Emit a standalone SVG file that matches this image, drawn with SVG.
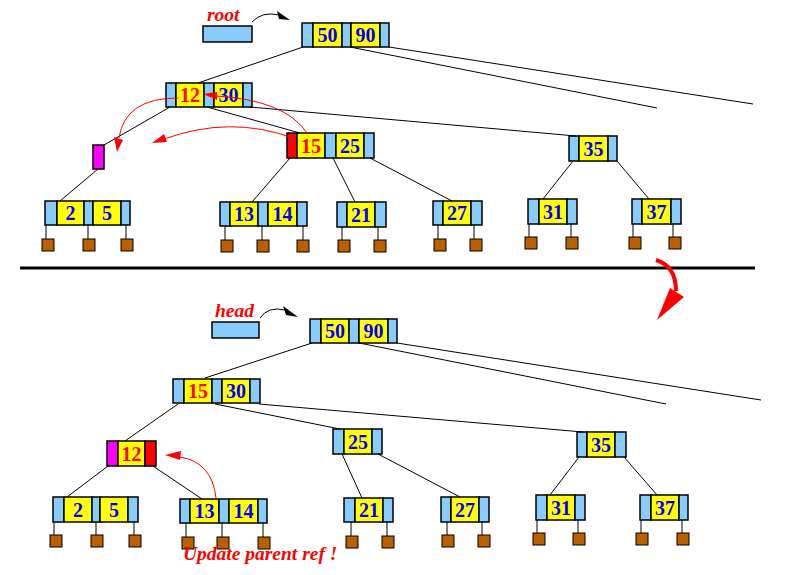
<svg xmlns="http://www.w3.org/2000/svg" width="786" height="575" viewBox="0 0 786 575">
<style>
.b{fill:#88ccff;stroke:#000;stroke-width:1.5}
.y{fill:#ffff00;stroke:#000;stroke-width:1.5}
.m{fill:#ff00ff;stroke:#000;stroke-width:1.5}
.r{fill:#ff0000;stroke:#000;stroke-width:1.5}
.s{fill:#bb6000;stroke:#000;stroke-width:1}
.t{font-family:"Liberation Serif",serif;font-weight:bold;font-size:20px;fill:#0000ff;text-anchor:middle}
.tr{fill:#ff0000}
.lbl{font-family:"Liberation Serif",serif;font-weight:bold;font-style:italic;font-size:19.5px;fill:#ff0000}
.e{stroke:#000;stroke-width:1;fill:none}
.ra{stroke:#ff0000;stroke-width:1;fill:none}
</style>
<rect width="786" height="575" fill="#fff"/>

<line x1="20" y1="268" x2="755" y2="268" stroke="#000" stroke-width="3"/>

<!-- TOP HALF -->
<g id="root-label">
<text class="lbl" x="207" y="21">root</text>
<rect class="b" x="203" y="26" width="49" height="16"/>
</g>
<g id="t-50-90">
<rect class="b" x="302" y="23" width="11" height="24"/><rect class="y" x="313" y="23" width="29" height="24"/><rect class="b" x="342" y="23" width="9" height="24"/><rect class="y" x="351" y="23" width="29" height="24"/><rect class="b" x="380" y="23" width="9" height="24"/>
<text class="t" x="327.5" y="42">50</text><text class="t" x="365.5" y="42">90</text>
</g>
<g id="t-12-30">
<rect class="b" x="166" y="83" width="10" height="24"/><rect class="y" x="176" y="83" width="28" height="24"/><rect class="b" x="204" y="83" width="10" height="24"/><rect class="y" x="214" y="83" width="29" height="24"/><rect class="b" x="243" y="83" width="9" height="24"/>
<text class="t tr" x="190" y="102">12</text><text class="t" x="228.5" y="102">30</text>
</g>
<g id="t-magenta">
<rect class="m" x="93" y="145" width="11" height="24"/>
</g>
<g id="t-15-25">
<rect class="r" x="287" y="133" width="10" height="25"/><rect class="y" x="297" y="133" width="28" height="25"/><rect class="b" x="325" y="133" width="11" height="25"/><rect class="y" x="336" y="133" width="28" height="25"/><rect class="b" x="364" y="133" width="10" height="25"/>
<text class="t tr" x="311" y="152.5">15</text><text class="t" x="350" y="152.5">25</text>
</g>
<g id="t-35">
<rect class="b" x="569" y="136" width="10" height="25"/><rect class="y" x="579" y="136" width="29" height="25"/><rect class="b" x="608" y="136" width="9" height="25"/>
<text class="t" x="593.5" y="155.5">35</text>
</g>
<g id="t-2-5">
<rect class="b" x="45" y="201" width="12" height="24"/><rect class="y" x="57" y="201" width="27" height="24"/><rect class="b" x="84" y="201" width="9" height="24"/><rect class="y" x="93" y="201" width="28" height="24"/><rect class="b" x="121" y="201" width="9" height="24"/>
<text class="t" x="70.5" y="220">2</text><text class="t" x="107" y="220">5</text>
<rect class="s" x="42" y="239" width="12" height="12"/><rect class="s" x="83" y="239" width="12" height="12"/><rect class="s" x="121" y="239" width="12" height="12"/>
</g>
<g id="t-13-14">
<rect class="b" x="220" y="202" width="10" height="24"/><rect class="y" x="230" y="202" width="28" height="24"/><rect class="b" x="258" y="202" width="10" height="24"/><rect class="y" x="268" y="202" width="29" height="24"/><rect class="b" x="297" y="202" width="10" height="24"/>
<text class="t" x="244" y="221">13</text><text class="t" x="282.5" y="221">14</text>
<rect class="s" x="221" y="240" width="12" height="12"/><rect class="s" x="257" y="240" width="12" height="12"/><rect class="s" x="297" y="240" width="12" height="12"/>
</g>
<g id="t-21">
<rect class="b" x="337" y="202" width="10" height="25"/><rect class="y" x="347" y="202" width="28" height="25"/><rect class="b" x="375" y="202" width="11" height="25"/>
<text class="t" x="361" y="221.5">21</text>
<rect class="s" x="338" y="240" width="12" height="12"/><rect class="s" x="374" y="240" width="12" height="12"/>
</g>
<g id="t-27">
<rect class="b" x="433" y="201" width="10" height="24"/><rect class="y" x="443" y="201" width="28" height="24"/><rect class="b" x="471" y="201" width="11" height="24"/>
<text class="t" x="457" y="220">27</text>
<rect class="s" x="434" y="239" width="12" height="12"/><rect class="s" x="470" y="239" width="12" height="12"/>
</g>
<g id="t-31">
<rect class="b" x="528" y="199" width="11" height="25"/><rect class="y" x="539" y="199" width="28" height="25"/><rect class="b" x="567" y="199" width="10" height="25"/>
<text class="t" x="553" y="218.5">31</text>
<rect class="s" x="525" y="237" width="12" height="12"/><rect class="s" x="566" y="237" width="12" height="12"/>
</g>
<g id="t-37">
<rect class="b" x="632" y="199" width="10" height="25"/><rect class="y" x="642" y="199" width="29" height="25"/><rect class="b" x="671" y="199" width="10" height="25"/>
<text class="t" x="656.5" y="218.5">37</text>
<rect class="s" x="629" y="237" width="12" height="12"/><rect class="s" x="669" y="237" width="12" height="12"/>
</g>

<!-- BOTTOM HALF -->
<g id="head-label">
<text class="lbl" x="215" y="317">head</text>
<rect class="b" x="212" y="322" width="47" height="16"/>
</g>
<g id="b-50-90">
<rect class="b" x="310" y="319" width="11" height="24"/><rect class="y" x="321" y="319" width="28" height="24"/><rect class="b" x="349" y="319" width="10" height="24"/><rect class="y" x="359" y="319" width="29" height="24"/><rect class="b" x="388" y="319" width="9" height="24"/>
<text class="t" x="335" y="338">50</text><text class="t" x="373.5" y="338">90</text>
</g>
<g id="b-15-30">
<rect class="b" x="173" y="379" width="11" height="24"/><rect class="y" x="184" y="379" width="28" height="24"/><rect class="b" x="212" y="379" width="10" height="24"/><rect class="y" x="222" y="379" width="28" height="24"/><rect class="b" x="250" y="379" width="10" height="24"/>
<text class="t tr" x="198" y="398">15</text><text class="t" x="236" y="398">30</text>
</g>
<g id="b-12">
<rect class="m" x="107" y="441" width="11" height="25"/><rect class="y" x="118" y="441" width="27" height="25"/><rect class="r" x="145" y="441" width="11" height="25"/>
<text class="t tr" x="131.5" y="460.5">12</text>
</g>
<g id="b-25">
<rect class="b" x="333" y="429" width="11" height="25"/><rect class="y" x="344" y="429" width="28" height="25"/><rect class="b" x="372" y="429" width="10" height="25"/>
<text class="t" x="358" y="448.5">25</text>
</g>
<g id="b-35">
<rect class="b" x="577" y="432" width="10" height="25"/><rect class="y" x="587" y="432" width="28" height="25"/><rect class="b" x="615" y="432" width="11" height="25"/>
<text class="t" x="601" y="451.5">35</text>
</g>
<g id="b-2-5">
<rect class="b" x="53" y="497" width="11" height="25"/><rect class="y" x="64" y="497" width="28" height="25"/><rect class="b" x="92" y="497" width="8" height="25"/><rect class="y" x="100" y="497" width="28" height="25"/><rect class="b" x="128" y="497" width="10" height="25"/>
<text class="t" x="78" y="516.5">2</text><text class="t" x="114" y="516.5">5</text>
<rect class="s" x="50" y="535" width="12" height="12"/><rect class="s" x="91" y="535" width="12" height="12"/><rect class="s" x="129" y="535" width="12" height="12"/>
</g>
<g id="b-13-14">
<rect class="b" x="180" y="499" width="10" height="24"/><rect class="y" x="190" y="499" width="29" height="24"/><rect class="b" x="219" y="499" width="10" height="24"/><rect class="y" x="229" y="499" width="29" height="24"/><rect class="b" x="258" y="499" width="9" height="24"/>
<text class="t" x="204.5" y="518">13</text><text class="t" x="243.5" y="518">14</text>
<rect class="s" x="182" y="537" width="12" height="12"/><rect class="s" x="217" y="537" width="12" height="12"/><rect class="s" x="258" y="537" width="12" height="12"/>
</g>
<g id="b-21">
<rect class="b" x="344" y="498" width="11" height="24"/><rect class="y" x="355" y="498" width="28" height="24"/><rect class="b" x="383" y="498" width="10" height="24"/>
<text class="t" x="369" y="517">21</text>
<rect class="s" x="346" y="536" width="12" height="12"/><rect class="s" x="382" y="536" width="12" height="12"/>
</g>
<g id="b-27">
<rect class="b" x="441" y="497" width="10" height="25"/><rect class="y" x="451" y="497" width="28" height="25"/><rect class="b" x="479" y="497" width="10" height="25"/>
<text class="t" x="465" y="516.5">27</text>
<rect class="s" x="442" y="535" width="12" height="12"/><rect class="s" x="478" y="535" width="12" height="12"/>
</g>
<g id="b-31">
<rect class="b" x="536" y="495" width="11" height="25"/><rect class="y" x="547" y="495" width="28" height="25"/><rect class="b" x="575" y="495" width="10" height="25"/>
<text class="t" x="561" y="514.5">31</text>
<rect class="s" x="533" y="533" width="12" height="12"/><rect class="s" x="573" y="533" width="12" height="12"/>
</g>
<g id="b-37">
<rect class="b" x="640" y="495" width="11" height="25"/><rect class="y" x="651" y="495" width="28" height="25"/><rect class="b" x="679" y="495" width="9" height="25"/>
<text class="t" x="665" y="514.5">37</text>
<rect class="s" x="636" y="533" width="12" height="12"/><rect class="s" x="677" y="533" width="12" height="12"/>
</g>
<text class="lbl" x="183" y="560">Update parent ref !</text>

<g id="connectors">
<!-- top -->
<line class="e" x1="303" y1="47" x2="198" y2="83"/>
<line class="e" x1="350" y1="47" x2="657" y2="108"/>
<line class="e" x1="389" y1="47" x2="753" y2="104"/>
<line class="e" x1="170" y1="107" x2="104" y2="145"/>
<line class="e" x1="98" y1="169" x2="60" y2="201"/>
<line class="e" x1="207" y1="107" x2="300" y2="133"/>
<line class="e" x1="250" y1="107" x2="576" y2="136"/>
<line class="e" x1="290" y1="158" x2="252" y2="202"/>
<line class="e" x1="333" y1="158" x2="355" y2="202"/>
<line class="e" x1="370" y1="158" x2="452" y2="201"/>
<line class="e" x1="573" y1="161" x2="543" y2="199"/>
<line class="e" x1="617" y1="161" x2="649" y2="199"/>
<path class="e" d="M46 225V239M88 225V239M126 225V239M225 226V240M262 226V240M303 226V240M342 227V240M378 227V240M438 225V239M474 225V239M529 224V237M571 224V237M633 224V237M673 224V237"/>
<!-- bottom -->
<line class="e" x1="312" y1="343" x2="205" y2="378"/>
<line class="e" x1="359" y1="343" x2="666" y2="404"/>
<line class="e" x1="397" y1="343" x2="761" y2="400"/>
<line class="e" x1="178" y1="404" x2="125" y2="441"/>
<line class="e" x1="215" y1="404" x2="340" y2="429"/>
<line class="e" x1="259" y1="404" x2="583" y2="432"/>
<line class="e" x1="108" y1="466" x2="67" y2="497"/>
<line class="e" x1="153" y1="466" x2="202" y2="499"/>
<line class="e" x1="342" y1="454" x2="362" y2="498"/>
<line class="e" x1="378" y1="454" x2="460" y2="497"/>
<line class="e" x1="579" y1="457" x2="550" y2="495"/>
<line class="e" x1="624" y1="457" x2="657" y2="495"/>
<path class="e" d="M54 522V535M96 522V535M134 522V535M186 523V537M222 523V537M263 523V537M351 522V536M387 522V536M447 522V535M482 522V535M537 520V533M578 520V533M641 520V533M682 520V533"/>
<!-- pointer arrows -->
<path class="e" d="M252 22Q262 11 279 15"/>
<polygon points="277,11 290,20 279,19" fill="#000"/>
<path class="e" d="M260 318Q268 306 285 310"/>
<polygon points="283,306 298,317 286,315" fill="#000"/>
<!-- red arrows -->
<path class="ra" d="M178 98Q125 98 119 138"/>
<polygon points="114,137 123,140 117,152" fill="#ff0000"/>
<path class="ra" d="M293 138Q230 115 164 139"/>
<polygon points="164,134 167,142 152,143" fill="#ff0000"/>
<path class="ra" d="M307 133Q285 100 216 96"/>
<polygon points="217,92 217,100 203,94" fill="#ff0000"/>
<path class="ra" d="M216 498Q212 462 180 457"/>
<polygon points="181,451 180,460 165,455" fill="#ff0000"/>
<path d="M656 260Q676 266 676 291" stroke="#ff0000" stroke-width="4" fill="none"/>
<polygon points="670,288 684,297 657,320" fill="#ff0000"/>
</g>
</svg>
